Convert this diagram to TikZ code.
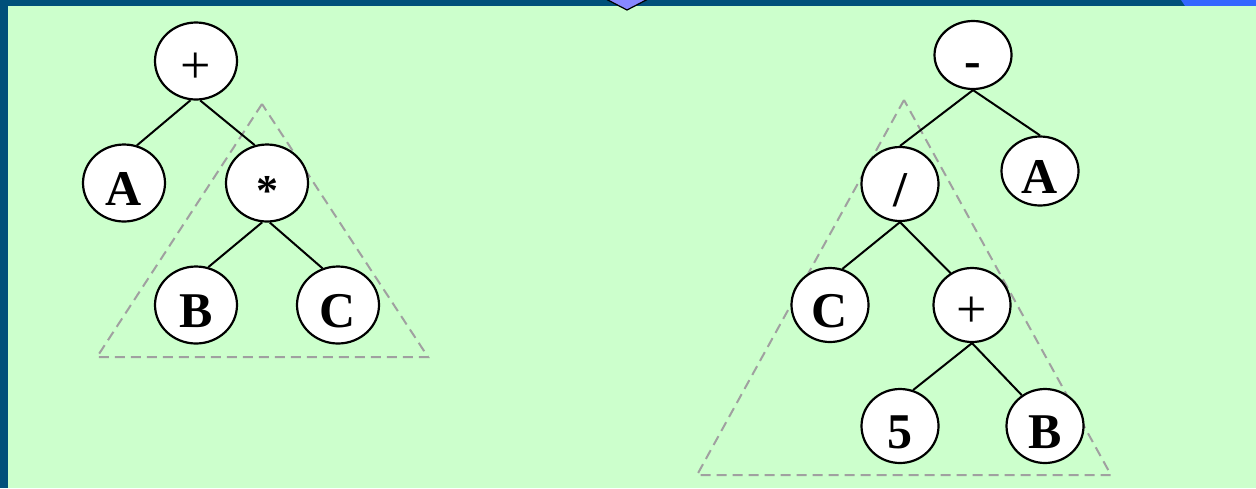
\documentclass[tikz,border=0pt]{standalone}
\usepackage{fontspec}
\setmainfont{Liberation Serif}
\usetikzlibrary{shapes.geometric}
\definecolor{frame}{RGB}{0,80,122}
\definecolor{paper}{RGB}{204,255,204}
\definecolor{tab}{RGB}{136,136,255}
\definecolor{corner}{RGB}{51,102,255}
\definecolor{subgray}{RGB}{160,160,160}

\begin{document}
\begin{tikzpicture}[x=0.5pt, y=-0.5pt,
  tnode/.style={draw, ellipse, fill=white, line width=1.1pt, inner sep=0pt, minimum width=41pt, minimum height=38.5pt, text height=22pt, text depth=0pt, font=\fontsize{25}{30}\selectfont\bfseries},
  rnode/.style={tnode, minimum width=38.5pt, minimum height=37pt},
  thin op/.style={font=\fontsize{27}{30}\selectfont},
  edge/.style={line width=1pt},
  sub/.style={draw=subgray, line width=1pt, dash pattern=on 5pt off 3pt}]
  \useasboundingbox (0,0) rectangle (1256,488);
  \fill[frame] (0,0) rectangle (1256,488);
  \fill[corner] (1181,0) -- (1256,0) -- (1256,6) -- (1185,6) -- cycle;
  \fill[paper] (8,6) rectangle (1256,488);
  \filldraw[fill=tab, draw=black, line width=0.6pt] (604,-2) -- (627,10) -- (650,-2);

  \coordinate (lt) at (262,104);
  \coordinate (ll) at (97,357);
  \coordinate (lr) at (428,357);
  \coordinate (rt) at (904,100);
  \coordinate (rl) at (697,475);
  \coordinate (rr) at (1111,475);
  \draw[sub] (lt) -- (ll) -- (lr) -- cycle;
  \draw[sub] (rt) -- (rl) -- (rr) -- cycle;

  \node[tnode, thin op] (lplus) at (196,61)  {+};
  \node[tnode]          (la)    at (124,183) {A};
  \node[tnode, font=\fontsize{22}{30}\selectfont\bfseries] (lmul) at (267,183) {*};
  \node[tnode]          (lb)    at (196,305) {B};
  \node[tnode]          (lc)    at (338,305) {C};
  \draw[edge] (lplus.262) -- (la.71);
  \draw[edge] (lplus.276) -- (lmul.108);
  \draw[edge] (lmul.263) -- (lb.72);
  \draw[edge] (lmul.274) -- (lc.113);

  \node[rnode, minimum height=34pt] (rminus) at (973,55)   {-};
  \node[rnode]                      (rdiv)   at (900,184)  {/};
  \node[rnode, minimum height=34.5pt] (ra)   at (1040,171) {A};
  \node[rnode]                      (rc)     at (830,305)  {C};
  \node[rnode, thin op]             (rplus)  at (972,305)  {+};
  \node[rnode]                      (rfive)  at (900,426)  {5};
  \node[rnode]                      (rb)     at (1045,426) {B};
  \draw[edge] (rminus.south) -- (rdiv.north);
  \draw[edge] (rminus.south) -- (ra.north);
  \draw[edge] (rdiv.south) -- (rc.71);
  \draw[edge] (rdiv.south) -- (rplus.124);
  \draw[edge] (rplus.south) -- (rfive.70);
  \draw[edge] (rplus.south) -- (rb.127);
\end{tikzpicture}
\end{document}
